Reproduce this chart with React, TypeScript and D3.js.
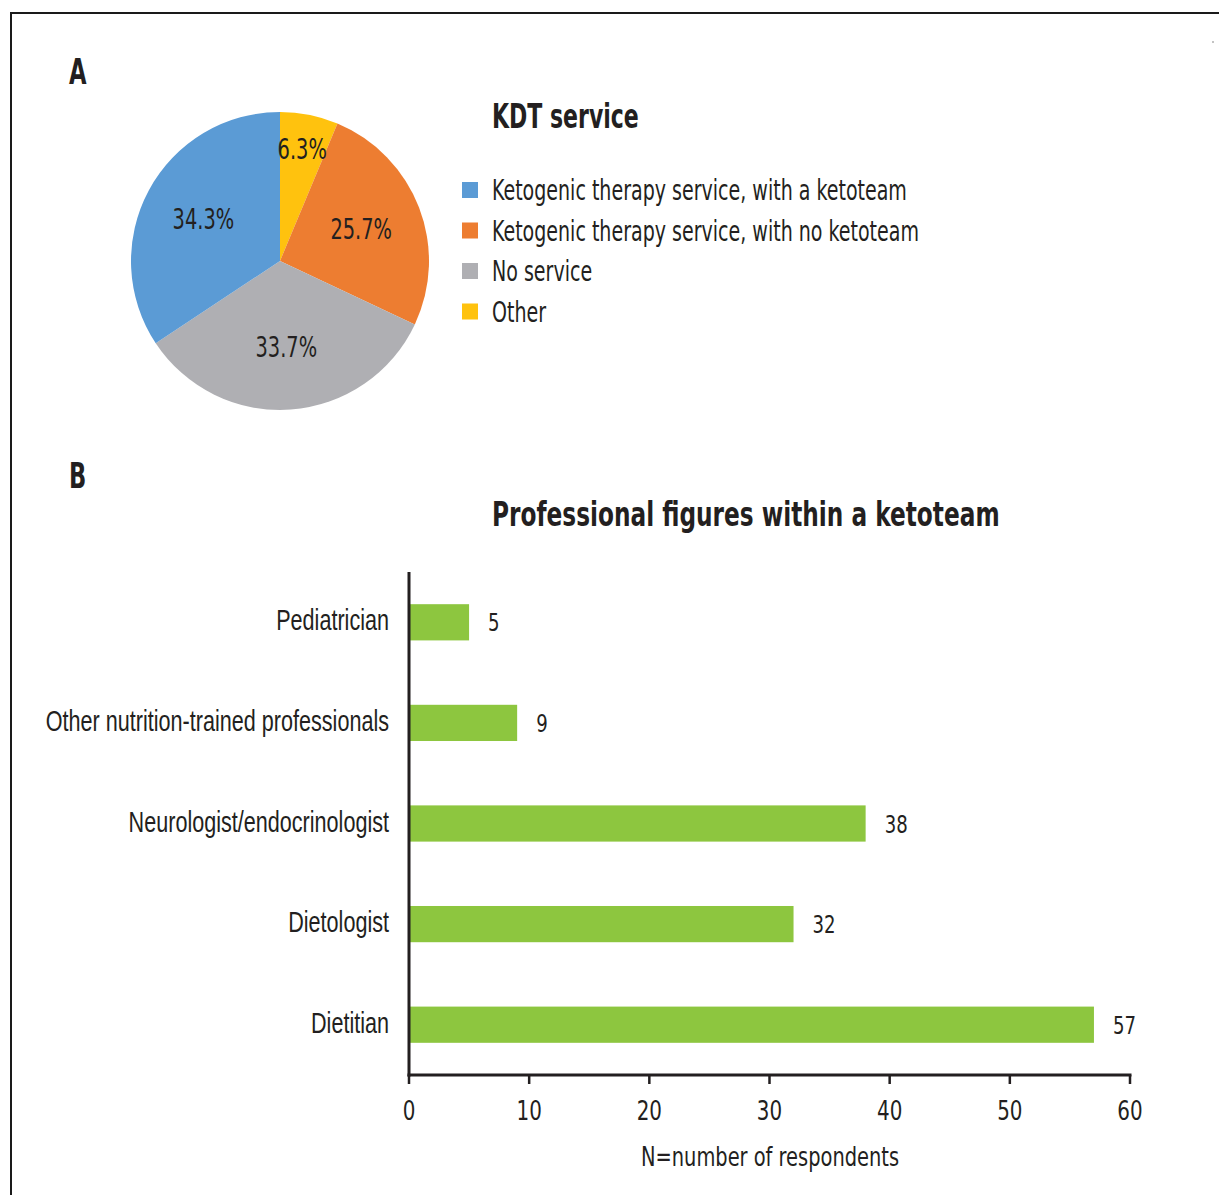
import React from "react";
import * as d3 from "d3";

const pieCategories = [
  "Ketogenic therapy service, with a ketoteam",
  "Ketogenic therapy service, with no ketoteam",
  "No service",
  "Other",
];
const pieValues = [34.3, 25.7, 33.7, 6.3];
const pieColors = ["#5B9BD5", "#ED7D31", "#AFAFB3", "#FFC20E"];
// clockwise order from 12 o'clock as drawn in the reference
const pieDrawOrder = [3, 1, 2, 0];

const barCategories = [
  "Pediatrician",
  "Other nutrition-trained professionals",
  "Neurologist/endocrinologist",
  "Dietologist",
  "Dietitian",
];
const barValues = [5, 9, 38, 32, 57];
const xTicks = [0, 10, 20, 30, 40, 50, 60];

const FONT = "'DejaVu Sans Condensed', 'DejaVu Sans', sans-serif";
const FONT_ARIAL = "'Liberation Sans', Arial, sans-serif";
const INK = "#231F20";

function T(props: {
  x: number;
  y: number;
  size: number;
  sx?: number;
  anchor?: string;
  weight?: string | number;
  family?: string;
  children: React.ReactNode;
}) {
  const { x, y, size, sx = 0.8, anchor = "start", weight = "normal", family = FONT, children } = props;
  return (
    <text
      transform={`translate(${x},${y}) scale(${sx},1)`}
      fontFamily={family}
      fontSize={size}
      fontWeight={weight}
      textAnchor={anchor}
      fill={INK}
    >
      {children}
    </text>
  );
}

export default function App() {
  const W = 1219;
  const H = 1195;

  // Pie
  const cx = 280;
  const cy = 261;
  const R = 149;
  const pieGen = d3
    .pie<number>()
    .sort(null)
    .value((i) => pieValues[i]);
  const arcs = pieGen(pieDrawOrder);
  const arcGen = d3.arc<d3.PieArcDatum<number>>().innerRadius(0).outerRadius(R);

  // Bars
  const x = d3.scaleLinear().domain([0, 60]).range([409, 1130]);
  const y = d3
    .scaleBand<string>()
    .domain(barCategories)
    .range([572, 1075])
    .paddingInner(0.64)
    .paddingOuter(0.32);
  const axisY = 1075;

  return (
    <svg
      width={W}
      height={H}
      viewBox={`0 0 ${W} ${H}`}
      style={{ position: "absolute", left: 0, top: 0, background: "#fff" }}
    >
      <rect x={0} y={0} width={W} height={H} fill="#fff" />
      {/* frame */}
      <path d={`M11,${H + 5} L11,13 L${W + 5},13`} fill="none" stroke="#1a1a1a" strokeWidth={2} />
      <circle cx={1213} cy={42} r={0.8} fill="#777" />

      {/* Panel letters */}
      <T x={69} y={84} size={35} weight="bold" sx={0.72}>A</T>
      <T x={69} y={488} size={35} weight="bold" sx={0.72}>B</T>

      {/* Pie */}
      <g transform={`translate(${cx},${cy})`}>
        {arcs.map((a) => (
          <path key={a.data} d={arcGen(a) || ""} fill={pieColors[a.data]} />
        ))}
        {arcs.map((a) => {
          const lr = pieValues[a.data] < 10 ? 113 : 87;
          const la = d3.arc<d3.PieArcDatum<number>>().innerRadius(lr).outerRadius(lr);
          const [lx, ly] = la.centroid(a);
          return (
            <T key={"l" + a.data} x={lx} y={ly + 9} size={28} sx={0.77} anchor="middle">
              {pieValues[a.data].toFixed(1) + "%"}
            </T>
          );
        })}
      </g>

      {/* Legend */}
      <T x={492} y={128} size={34} weight="bold" sx={0.72}>KDT service</T>
      {pieCategories.map((c, i) => {
        const ry = 190 + i * 40.5;
        return (
          <g key={c}>
            <rect x={462} y={ry - 8} width={16} height={16} fill={pieColors[i]} />
            <T x={492} y={ry + 10} size={29} sx={0.73}>{c}</T>
          </g>
        );
      })}

      {/* Bar chart title */}
      <T x={492} y={526} size={34} weight="bold" sx={0.76}>Professional figures within a ketoteam</T>

      {/* Bars */}
      {barCategories.map((c, i) => {
        const by = y(c) as number;
        const bw = y.bandwidth();
        return (
          <g key={c}>
            <rect x={x(0)} y={by} width={x(barValues[i]) - x(0)} height={bw} fill="#8DC63F" />
            <T x={x(barValues[i]) + 19} y={by + bw / 2 + 9} size={24} sx={0.84}>
              {String(barValues[i])}
            </T>
            <T x={389} y={by + bw / 2 + 8} size={30} sx={0.72} anchor="end" family={FONT_ARIAL}>
              {c}
            </T>
          </g>
        );
      })}

      {/* Axes */}
      <line x1={x(0)} x2={x(0)} y1={572} y2={axisY + 1.5} stroke={INK} strokeWidth={3} />
      <line x1={x(0) - 1.5} x2={x(60) + 1.5} y1={axisY} y2={axisY} stroke={INK} strokeWidth={3} />
      {xTicks.map((t) => (
        <g key={t}>
          <line x1={x(t)} x2={x(t)} y1={axisY} y2={axisY + 9} stroke={INK} strokeWidth={2.5} />
          <T x={x(t)} y={1120} size={27} sx={0.82} anchor="middle">{String(t)}</T>
        </g>
      ))}
      <T x={770} y={1166} size={27} sx={0.8} anchor="middle">N=number of respondents</T>
    </svg>
  );
}
